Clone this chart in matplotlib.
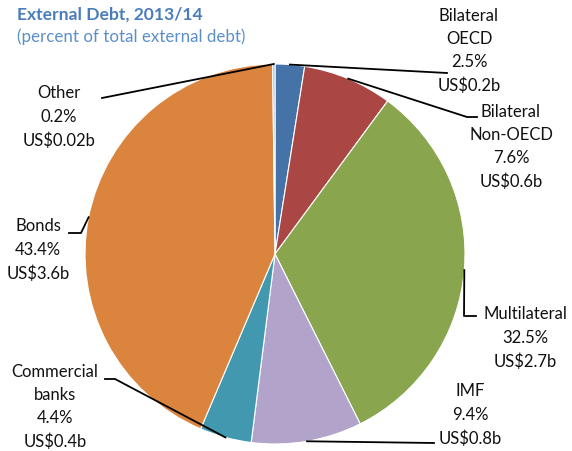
import matplotlib.pyplot as plt
import numpy as np

plt.rcParams['font.family'] = ['Lato', 'DejaVu Sans']

# external debt composition
labels = ['Bilateral\nOECD', 'Bilateral\nNon-OECD', 'Multilateral', 'IMF',
          'Commercial\nbanks', 'Bonds', 'Other']
shares = [2.5, 7.6, 32.5, 9.4, 4.4, 43.4, 0.2]
amounts = ['0.2', '0.6', '2.7', '0.8', '0.4', '3.6', '0.02']
colors = ['#4572A7', '#AA4643', '#89A54E', '#B1A3C9', '#4198AF', '#DB843D', '#A3B7D9']

W, H = 572, 451
CX, CY, R = 275, H - 254, 190

# label centre (x, y from top) and leader-line bends (from pie edge outwards)
label_pos = [(469, 51), (511, 147), (525, 338), (470, 415), (55, 407), (38, 250), (59, 117)]
leaders = [
    [(447, 73)],
    [(467, 117), (477, 117)],
    [(464, 316), (476, 316)],
    [(434, 443)],
    [(115, 379), (105, 379)],
    [(81, 233), (69, 233)],
    [(102, 98)],
]

fig = plt.figure(figsize=(W / 100, H / 100), dpi=100)
ax = fig.add_axes([0, 0, 1, 1])

wedges, _ = ax.pie(shares, colors=colors, startangle=90, counterclock=False,
                   center=(CX, CY), radius=R, frame=True,
                   wedgeprops=dict(edgecolor='white', linewidth=0.8))
ax.set_xlim(0, W)
ax.set_ylim(0, H)
ax.axis('off')

for w, lab, s, a, (tx, ty), pts in zip(wedges, labels, shares, amounts, label_pos, leaders):
    mid = np.deg2rad((w.theta1 + w.theta2) / 2)
    xs = [CX + R * np.cos(mid)] + [p[0] for p in pts]
    ys = [CY + R * np.sin(mid)] + [H - p[1] for p in pts]
    ax.plot(xs, ys, color='black', lw=1.3, clip_on=False)
    ax.text(tx, H - ty, f'{lab}\n{s}%\nUS${a}b', ha='center', va='center',
            multialignment='center', fontsize=12, linespacing=1.55, color='#111111')

fig.text(17 / W, 1 - 15 / H, 'External Debt, 2013/14', fontsize=12.6,
         fontweight='bold', color='#4A7EBB', va='center')
fig.text(17 / W, 1 - 37 / H, '(percent of total external debt)', fontsize=12.2,
         color='#5B8FC9', va='center')

fig.savefig('out.png', dpi=100)
